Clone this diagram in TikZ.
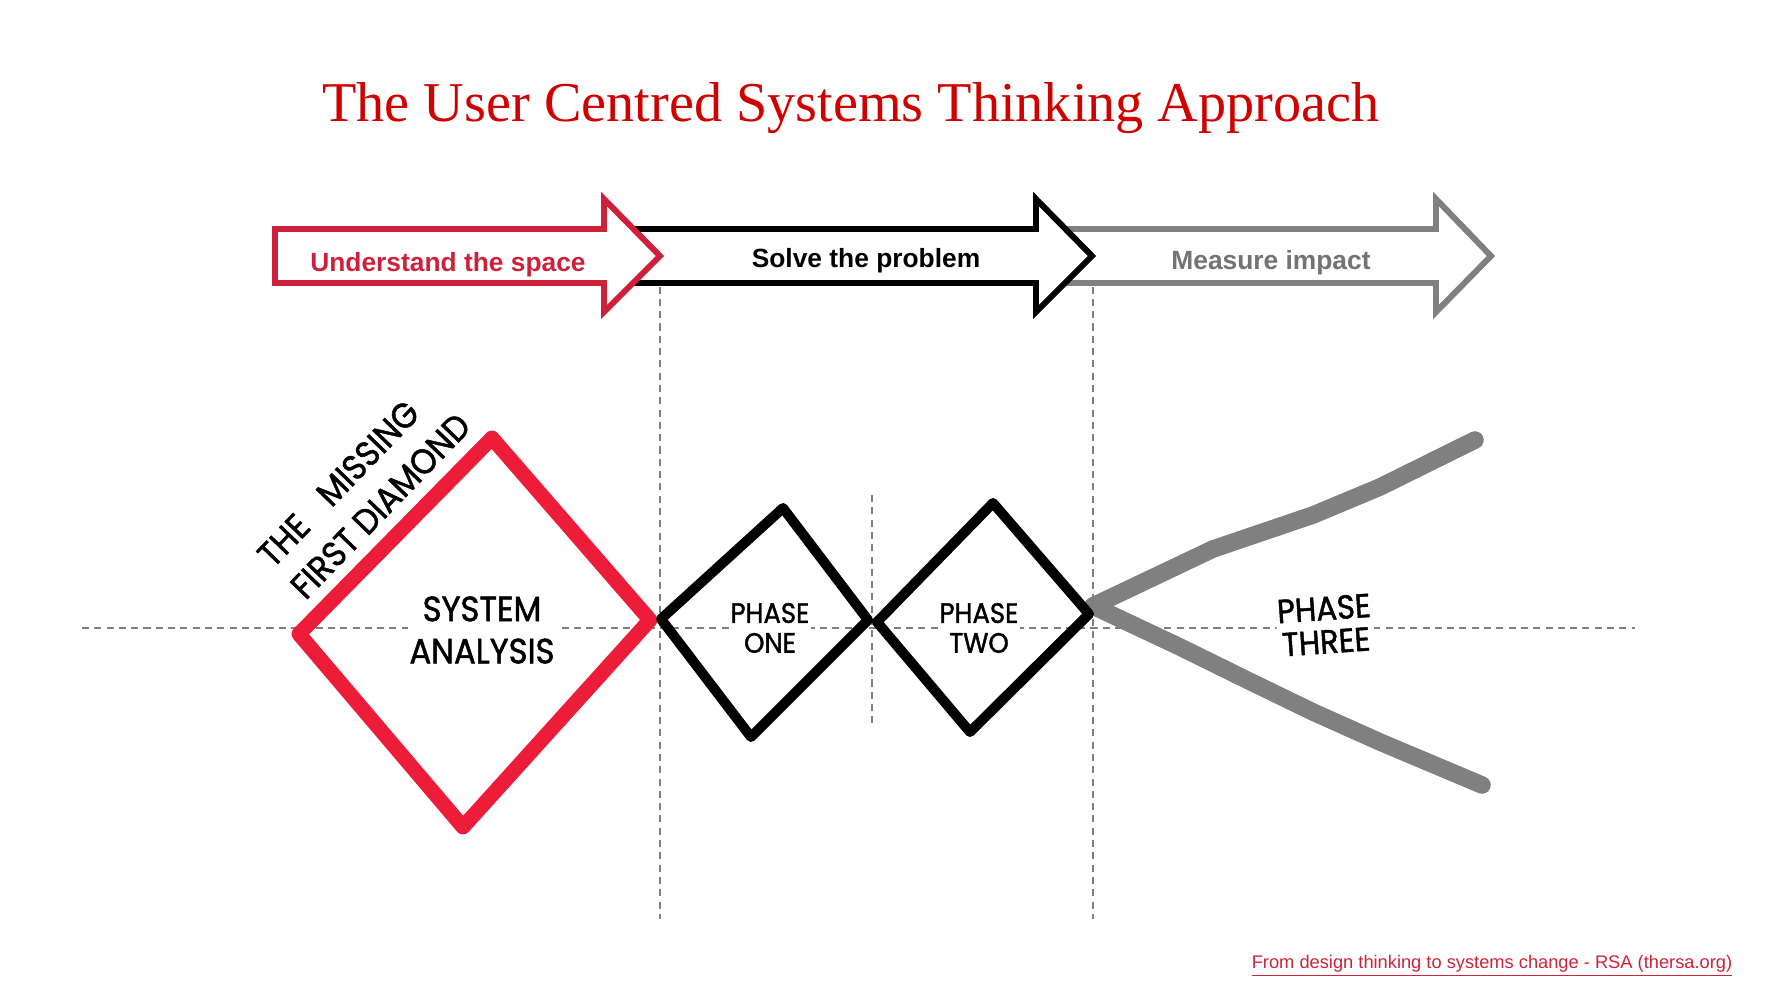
\documentclass[tikz,border=0pt]{standalone}
\usepackage{fontspec}
\setmainfont{Liberation Serif}
\newfontfamily\arialfont{Liberation Sans}
\newfontfamily\handfont[FakeStretch=0.92, FakeBold=1.4]{Poppins}
\usetikzlibrary{positioning}

\definecolor{titlered}{RGB}{208,0,0}
\definecolor{arrowred}{RGB}{207,32,59}
\definecolor{diamondred}{RGB}{237,28,56}
\definecolor{impactgray}{RGB}{128,128,128}
\definecolor{linkred}{RGB}{204,36,56}

\tikzset{
  guide/.style={draw=impactgray, line width=0.8pt, dash pattern=on 4pt off 3pt},
  stagearrow/.style={line width=3.4pt, fill=white},
  stagelabel/.style={font=\arialfont\fontsize{15}{18}\selectfont\bfseries},
  sketch/.style={line join=round, line cap=round},
  handlabel/.style={font=\handfont\fontsize{#1}{#1}\selectfont, align=center, fill=white, inner sep=1pt},
}

\begin{document}
\begin{tikzpicture}[x=0.02cm, y=-0.02cm]
\useasboundingbox (0,0) rectangle (1783,991);

\node[font=\fontsize{32}{36}\selectfont, text=titlered, anchor=base] (title) at (851,121) {The User Centred Systems Thinking Approach};

% dashed guides
\draw[guide] (82,628) -- (1635,628);
\draw[guide] (660,262) -- (660,919);
\draw[guide] (1093,262) -- (1093,919);
\draw[guide] (872,495) -- (872,724);

% stage arrows, back to front
\draw[stagearrow, draw=impactgray] (1050,229) -- (1436,229) -- (1436,199) -- (1491,256) -- (1436,312) -- (1436,283) -- (1050,283) -- cycle;
\draw[stagearrow, draw=black] (620,229) -- (1036,229) -- (1036,199) -- (1092,256) -- (1036,312) -- (1036,283) -- (620,283) -- cycle;
\draw[stagearrow, draw=arrowred] (275,229) -- (604,229) -- (604,199) -- (660,256) -- (604,312) -- (604,283) -- (275,283) -- cycle;

\node[stagelabel, text=arrowred] (understand) at (448,265) {Understand the space};
\node[stagelabel] (solve) at (866,261) {Solve the problem};
\node[stagelabel, text=impactgray!90!black] (measure) at (1271,263) {Measure impact};

% diamonds
\draw[sketch, draw=diamondred, line width=8.5pt] (492,438) -- (650,620) -- (463,827) -- (299,634) -- cycle;
\draw[sketch, draw=impactgray, line width=10pt] (1475,440) -- (1380,487) -- (1313,515) -- (1213,549) -- (1093,606) -- (1180,647) -- (1247,680) -- (1313,712) -- (1380,742) -- (1482,785);
\draw[sketch, line width=5.7pt] (783,508) -- (868,620) -- (751,737) -- (661,619) -- cycle;
\draw[sketch, line width=5.7pt] (993,503) -- (1089,614) -- (970,732) -- (877,622) -- cycle;

\node[handlabel=20, fill=none, align=left, rotate=46] (missing) at (364,490) {THE\hspace{0.8em}MISSING\\[6pt]FIRST DIAMOND};
\node[handlabel=20] (analysis) at (482,630) {SYSTEM\\[4pt]ANALYSIS};
\node[handlabel=16] (phaseone) at (770,628) {PHASE\\[1pt]ONE};
\node[handlabel=16] (phasetwo) at (979,628) {PHASE\\[1pt]TWO};
\node[handlabel=19, rotate=4] (phasethree) at (1325,625) {PHASE\\THREE};

\node[font=\arialfont\fontsize{10.4}{12}\selectfont, text=linkred] (source) at (1492,966) {\underline{From design thinking to systems change - RSA (thersa.org)}};
\end{tikzpicture}
\end{document}
